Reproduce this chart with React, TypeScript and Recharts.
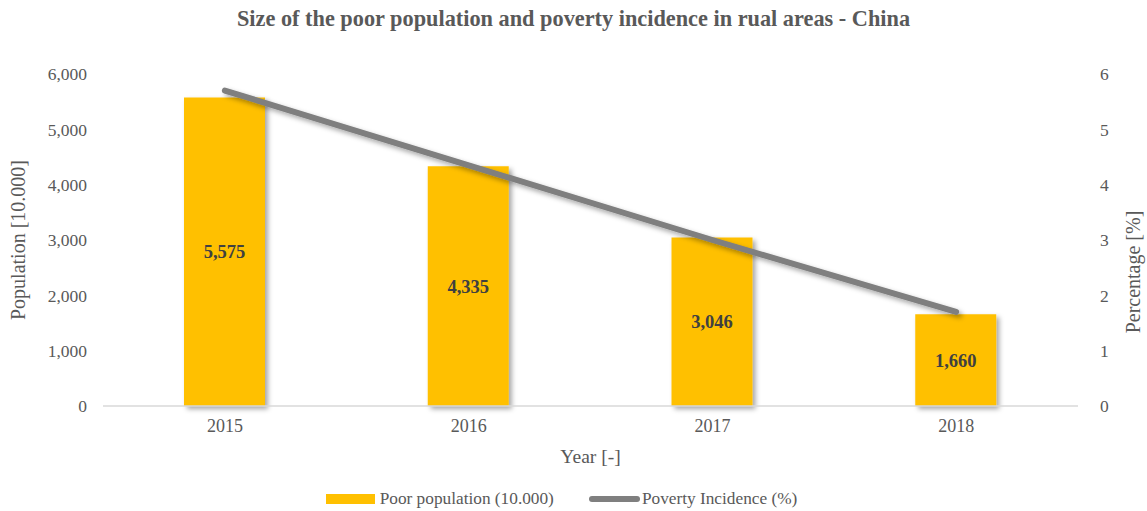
import React from 'react';
import { ComposedChart, Bar, Line, XAxis, YAxis, Legend, LabelList } from 'recharts';

const years = ['2015', '2016', '2017', '2018'];
const poorPopulation = [5575, 4335, 3046, 1660];
const povertyIncidence = [5.7, 4.35, 3.0, 1.7];
const leftTicks = [0, 1000, 2000, 3000, 4000, 5000, 6000];
const rightTicks = [0, 1, 2, 3, 4, 5, 6];

const FONT = '"Liberation Serif", "Times New Roman", serif';
const TEXT = '#595959';

const data = years.map((y, i) => ({
  year: y,
  population: poorPopulation[i],
  incidence: povertyIncidence[i],
}));

const fmt = (v: number) => v.toLocaleString('en-US');

function LegendContent() {
  return (
    <div style={{ height: 25, display: 'flex', justifyContent: 'center', alignItems: 'center', fontFamily: FONT, fontSize: 17.3, color: TEXT, paddingRight: 24 }}>
      <span style={{ display: 'inline-block', width: 49, height: 10, background: '#ffc000', marginRight: 5 }} />
      <span>Poor population (10.000)</span>
      <span style={{ display: 'inline-block', width: 51, height: 6, borderRadius: 3, background: '#7f7f7f', marginLeft: 35, marginRight: 2 }} />
      <span>Poverty Incidence (%)</span>
    </div>
  );
}

export default function App() {
  return (
    <div style={{ position: 'absolute', left: 0, top: 0, width: 1147, height: 511, background: '#fff' }}>
      <div style={{ position: 'absolute', top: 6, width: 1147, textAlign: 'center', fontFamily: FONT, fontWeight: 'bold', fontSize: 22.3, color: TEXT }}>
        Size of the poor population and poverty incidence in rual areas - China
      </div>
      <ComposedChart width={1147} height={511} data={data} margin={{ top: 74, right: 0, left: 0, bottom: 0 }}>
        <defs>
          <filter id="shadow" x="-20%" y="-20%" width="150%" height="150%">
            <feDropShadow dx="3" dy="3" stdDeviation="2.5" floodColor="#000" floodOpacity="0.35" />
          </filter>
        </defs>
        <XAxis
          dataKey="year"
          height={80}
          tickLine={false}
          axisLine={{ stroke: '#d9d9d9', strokeWidth: 1.5 }}
          tick={{ fill: TEXT, fontFamily: FONT, fontSize: 18 }}
          tickMargin={7}
          label={{ value: 'Year [-]', position: 'insideTop', dy: 38, fill: TEXT, fontFamily: FONT, fontSize: 19.5 }}
        />
        <YAxis
          yAxisId="left"
          width={103}
          domain={[0, 6000]}
          ticks={leftTicks}
          tickFormatter={fmt}
          axisLine={false}
          tickLine={false}
          tickMargin={10}
          tick={{ fill: TEXT, fontFamily: FONT, fontSize: 17.5 }}
          label={{ value: 'Population [10.000]', angle: -90, position: 'insideLeft', dx: 13, dy: 0, fill: TEXT, fontFamily: FONT, fontSize: 20, style: { textAnchor: 'middle' } }}
        />
        <YAxis
          yAxisId="right"
          orientation="right"
          width={69}
          domain={[0, 6]}
          ticks={rightTicks}
          axisLine={false}
          tickLine={false}
          tickMargin={16}
          tick={{ fill: TEXT, fontFamily: FONT, fontSize: 17.5 }}
          label={{ value: 'Percentage [%]', angle: -90, position: 'insideRight', dx: -9, dy: 32, fill: TEXT, fontFamily: FONT, fontSize: 20, style: { textAnchor: 'middle' } }}
        />
        <Bar yAxisId="left" dataKey="population" fill="#ffc000" barSize={81} filter="url(#shadow)" isAnimationActive={false}>
          <LabelList dataKey="population" position="center" formatter={(v: any) => fmt(Number(v))} style={{ fill: '#404040', fontFamily: FONT, fontWeight: 'bold', fontSize: 18.5 }} />
        </Bar>
        <Line
          yAxisId="right"
          dataKey="incidence"
          stroke="#7f7f7f"
          strokeWidth={6}
          strokeLinecap="round"
          dot={false}
          activeDot={false}
          filter="url(#shadow)"
          isAnimationActive={false}
        />
        <Legend verticalAlign="bottom" content={<LegendContent />} />
      </ComposedChart>
    </div>
  );
}
